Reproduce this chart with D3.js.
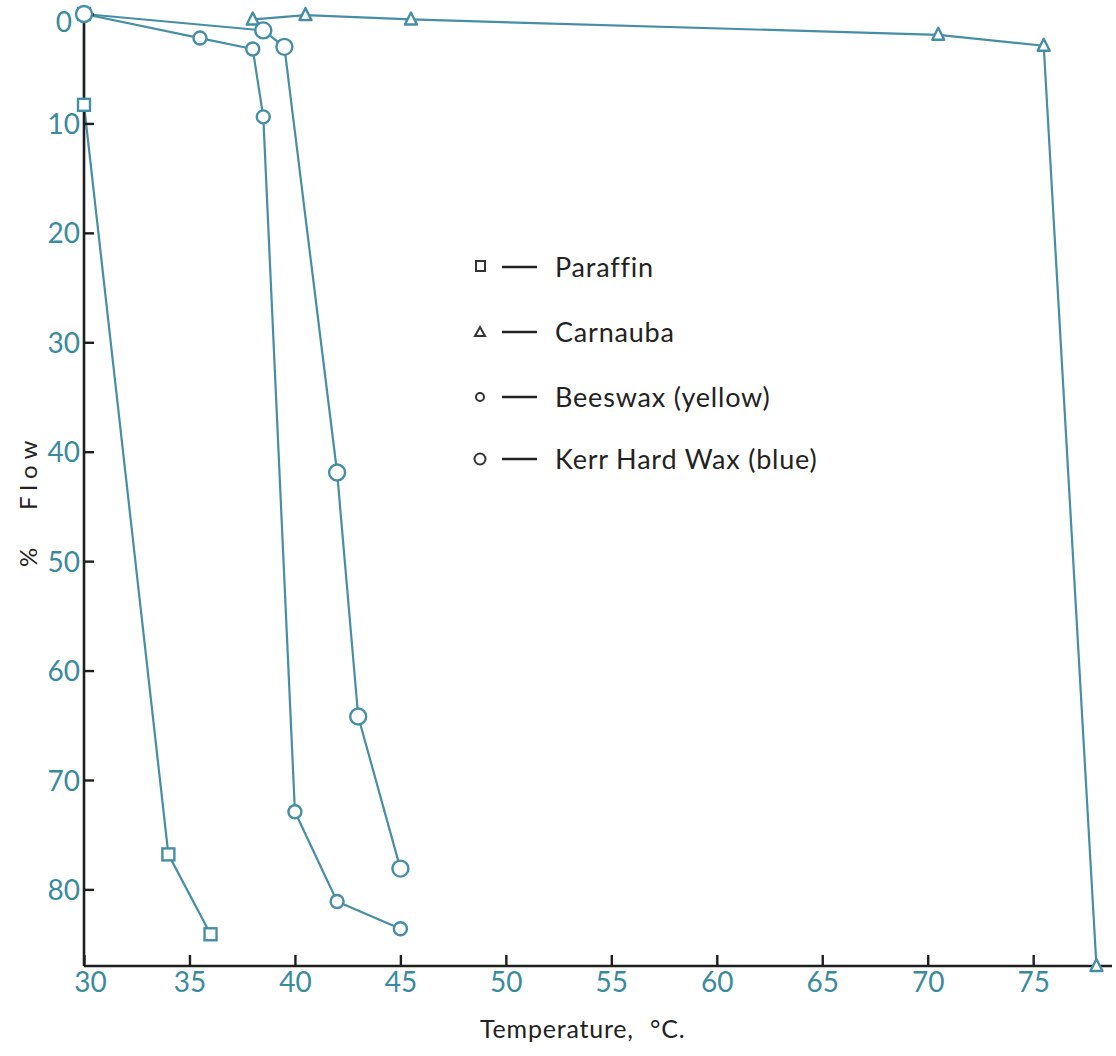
<!DOCTYPE html>
<html>
<head>
<meta charset="utf-8">
<script src="https://cdn.jsdelivr.net/npm/d3@7/dist/d3.min.js"></script>
<style>
  html, body { margin: 0; padding: 0; background: #ffffff; }
  svg { display: block; }
</style>
</head>
<body>
<div id="chart"></div>
<script>
// ---- Data (Temperature °C, % Flow) ----
const paraffin = [[30, 0], [30, 8.3], [34, 76.8], [36, 84.1]];
const carnauba = [[38, 0.5], [40.5, 0.1], [45.5, 0.5], [70.5, 1.9], [75.5, 2.9], [78, 87]];
const beeswax  = [[30, 0], [35.5, 2.2], [38, 3.2], [38.5, 9.4], [40, 72.9], [42, 81.1], [45, 83.6]];
const kerrWax  = [[30, 0], [38.5, 1.5], [39.5, 3.0], [42, 41.9], [43, 64.2], [45, 78.1]];

const xTicks = [30, 35, 40, 45, 50, 55, 60, 65, 70, 75];
const yTicks = [0, 10, 20, 30, 40, 50, 60, 70, 80];

const seriesNames = ["Paraffin", "Carnauba", "Beeswax (yellow)", "Kerr Hard Wax (blue)"];
const seriesSymbols = ["square", "triangle", "smallCircle", "circle"];
const seriesData = [paraffin, carnauba, beeswax, kerrWax];

// ---- Layout ----
const W = 1116, H = 1056;
const lineColor = "#468ea5";
const labelColor = "#3a8a9e";
const axisColor = "#1e1e1e";
const fontFam = "Lato, 'Open Sans', sans-serif";

const svg = d3.select("#chart").append("svg").attr("width", W).attr("height", H);
svg.append("rect").attr("width", W).attr("height", H).attr("fill", "#ffffff");

const x = d3.scaleLinear().domain([30, 78.5]).range([84, 1107]);
const y = d3.scaleLinear().domain([0, 87]).range([14, 966]);

// series lines
const line = d3.line().x(d => x(d[0])).y(d => y(d[1]));
seriesData.forEach((data) => {
  svg.append("path").datum(data)
    .attr("d", line)
    .attr("fill", "none")
    .attr("stroke", lineColor)
    .attr("stroke-width", 2.2)
    .attr("stroke-linejoin", "round");
});

// axes
const xAxis = d3.axisBottom(x).tickValues(xTicks).tickSizeInner(-11).tickSizeOuter(0).tickPadding(6);
const gx = svg.append("g").attr("transform", `translate(0,${y(87)})`).call(xAxis);
gx.select(".domain").attr("d", `M${x(30)},0H${W - 4}`);

const yAxis = d3.axisLeft(y).tickValues(yTicks).tickSizeInner(-10).tickSizeOuter(0).tickPadding(4);
const gy = svg.append("g").attr("transform", `translate(${x(30)},0)`).call(yAxis);
gy.select(".domain").attr("d", `M0,${y(0)}V${y(87)}`);

[gx, gy].forEach(g => {
  g.select(".domain").attr("stroke", axisColor).attr("stroke-width", 2.6);
  g.selectAll(".tick line").attr("stroke", axisColor).attr("stroke-width", 2.4);
  g.selectAll(".tick text")
    .attr("fill", labelColor)
    .style("font-family", fontFam)
    .style("font-size", "28px");
});
gx.selectAll(".tick text").attr("dy", "0.72em").attr("dx", d => d === 30 ? 6 : 0);
gy.selectAll(".tick text")
  .attr("dy", d => d === 0 ? "0.62em" : "0.36em")
  .attr("dx", d => d === 0 ? -8 : 0);

// markers
function drawMarker(g, type, cx, cy, color, sw) {
  if (type === "square") {
    g.append("rect").attr("x", cx - 6).attr("y", cy - 6).attr("width", 12).attr("height", 12)
      .attr("fill", "#fff").attr("stroke", color).attr("stroke-width", sw);
  } else if (type === "triangle") {
    g.append("path").attr("d", `M${cx},${cy - 7}L${cx + 6},${cy + 5}L${cx - 6},${cy + 5}Z`)
      .attr("fill", "#fff").attr("stroke", color).attr("stroke-width", sw).attr("stroke-linejoin", "round");
  } else if (type === "smallCircle") {
    g.append("circle").attr("cx", cx).attr("cy", cy).attr("r", 6.5)
      .attr("fill", "#fff").attr("stroke", color).attr("stroke-width", sw);
  } else {
    g.append("circle").attr("cx", cx).attr("cy", cy).attr("r", 8)
      .attr("fill", "#fff").attr("stroke", color).attr("stroke-width", sw);
  }
}
const mg = svg.append("g");
seriesData.forEach((data, i) => {
  data.forEach(d => drawMarker(mg, seriesSymbols[i], x(d[0]), y(d[1]), lineColor, 2.4));
});

// axis titles
const yTitle = svg.append("text")
  .attr("transform", `translate(37,0) rotate(-90)`)
  .attr("fill", "#222")
  .style("font-family", fontFam)
  .style("font-size", "24px");
yTitle.append("tspan").attr("x", -567).text("%");
yTitle.append("tspan").attr("x", -510).style("letter-spacing", "6px").text("Flow");

const xTitle = svg.append("text")
  .attr("y", 1038)
  .attr("fill", "#222")
  .style("font-family", fontFam)
  .style("font-size", "25px")
  .style("letter-spacing", "0.8px");
xTitle.append("tspan").attr("x", 480).text("Temperature,");
xTitle.append("tspan").attr("x", 650).text("°C.");

// legend
const legend = svg.append("g");
const legY = [267, 332, 397, 459];
seriesNames.forEach((name, i) => {
  const ly = legY[i];
  const sym = seriesSymbols[i];
  const lg = legend.append("g");
  if (sym === "square") {
    lg.append("rect").attr("x", 476).attr("y", ly - 6).attr("width", 9).attr("height", 10)
      .attr("fill", "none").attr("stroke", "#333").attr("stroke-width", 2);
  } else if (sym === "triangle") {
    lg.append("path").attr("d", `M480,${ly - 5}L485,${ly + 4}L475,${ly + 4}Z`)
      .attr("fill", "none").attr("stroke", "#333").attr("stroke-width", 2);
  } else if (sym === "smallCircle") {
    lg.append("circle").attr("cx", 480).attr("cy", ly).attr("r", 4)
      .attr("fill", "none").attr("stroke", "#333").attr("stroke-width", 2);
  } else {
    lg.append("circle").attr("cx", 480).attr("cy", ly).attr("r", 5.5)
      .attr("fill", "none").attr("stroke", "#333").attr("stroke-width", 2);
  }
  lg.append("line").attr("x1", 502).attr("x2", 537).attr("y1", ly).attr("y2", ly)
    .attr("stroke", "#222").attr("stroke-width", 2.4);
  lg.append("text").attr("x", 555).attr("y", ly).attr("dy", "0.36em")
    .attr("fill", "#222")
    .style("font-family", fontFam)
    .style("font-size", "27px")
    .style("letter-spacing", "0.8px")
    .text(name);
});
</script>
</body>
</html>
